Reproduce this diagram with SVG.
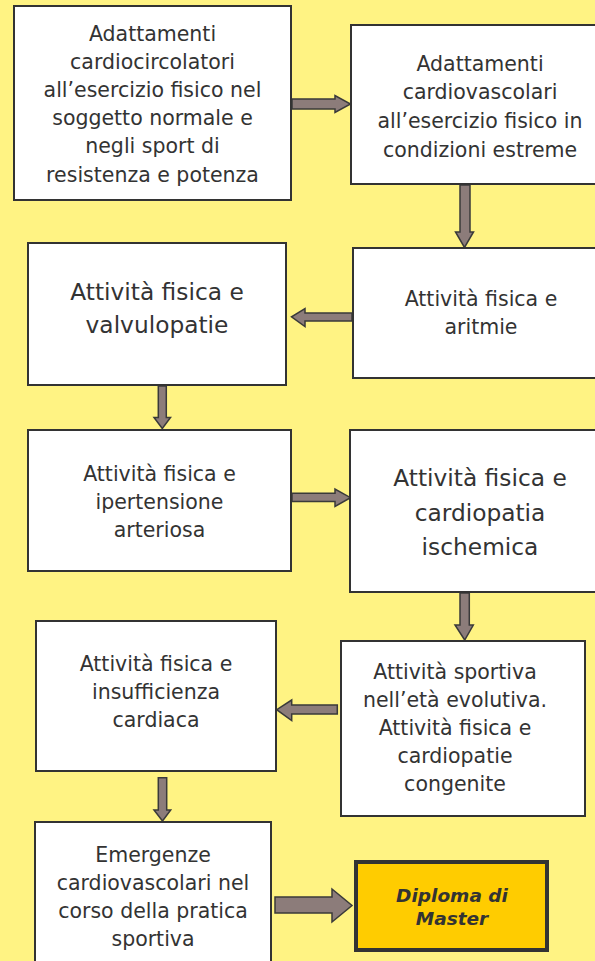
<svg xmlns="http://www.w3.org/2000/svg" width="595" height="961" viewBox="0 0 595 961">
<style>
.bg{fill:#FFF383}
.box{fill:#FFFFFF;stroke:#333333;stroke-width:2}
.final{fill:#FFCC00;stroke:#333333;stroke-width:4}
.t{font-family:"DejaVu Sans",Verdana,sans-serif;fill:#333333;text-anchor:middle;font-size:20.5px}
.tl{font-family:"DejaVu Sans",Verdana,sans-serif;fill:#333333;text-anchor:middle;font-size:23.3px}
.tb{font-family:"DejaVu Sans",Verdana,sans-serif;fill:#333333;text-anchor:middle;font-size:18.5px;font-weight:bold;font-style:italic}
.arr{fill:#8C7C7A;stroke:#3A3A3A;stroke-width:1.5;stroke-linejoin:miter}
</style>
<rect class="bg" x="0" y="0" width="595" height="961"/>
<g id="connectors">
<polygon class="arr" points="292,99 335,99 335,95.5 350.5,104 335,112.5 335,109 292,109"/>
<polygon class="arr" points="460,185 470,185 470,232 473.5,232 464.5,247.5 455.5,232 460,232"/>
<polygon class="arr" points="352,313 305,313 305,308.5 291.5,316.8 305,326.5 305,321 352,321"/>
<polygon class="arr" points="158.3,386 166.3,386 166.3,417.5 170.5,417.5 162.3,428.5 154,417.5 158.3,417.5"/>
<polygon class="arr" points="292,493.3 335,493.3 335,489 350.5,497.7 335,506.5 335,501.5 292,501.5"/>
<polygon class="arr" points="460,593 469.3,593 469.3,625 473.3,625 464.7,640 455,625 460,625"/>
<polygon class="arr" points="337.3,705 291.7,705 291.7,700 276.7,709.7 291.7,720.5 291.7,714 337.3,714"/>
<polygon class="arr" points="158.3,777.7 166.7,777.7 166.7,810 170.7,810 162.5,821 154,810 158.3,810"/>
<polygon class="arr" points="275,897 332,897 332,889 352,905.5 332,922 332,913 275,913"/>
</g>
<g id="n1">
<rect class="box" x="14" y="6" width="277" height="194"/>
<text class="t" x="152.5"><tspan x="152.5" y="41">Adattamenti</tspan><tspan x="152.5" y="69">cardiocircolatori</tspan><tspan x="152.5" y="97">all’esercizio fisico nel</tspan><tspan x="152.5" y="125">soggetto normale e</tspan><tspan x="152.5" y="153">negli sport di</tspan><tspan x="152.5" y="181.5">resistenza e potenza</tspan></text>
</g>
<g id="n2">
<rect class="box" x="351" y="25" width="258" height="159"/>
<text class="t" x="480"><tspan x="480" y="70.5">Adattamenti</tspan><tspan x="480" y="99">cardiovascolari</tspan><tspan x="480" y="128">all’esercizio fisico in</tspan><tspan x="480" y="156.5">condizioni estreme</tspan></text>
</g>
<g id="n3">
<rect class="box" x="28" y="243" width="258" height="142"/>
<text class="tl" x="157"><tspan x="157" y="300">Attività fisica e</tspan><tspan x="157" y="333">valvulopatie</tspan></text>
</g>
<g id="n4">
<rect class="box" x="353" y="248" width="256" height="130"/>
<text class="t" x="481"><tspan x="481" y="306">Attività fisica e</tspan><tspan x="481" y="334">aritmie</tspan></text>
</g>
<g id="n5">
<rect class="box" x="28" y="430" width="263" height="141"/>
<text class="t" x="159.5"><tspan x="159.5" y="481">Attività fisica e</tspan><tspan x="159.5" y="509">ipertensione</tspan><tspan x="159.5" y="537">arteriosa</tspan></text>
</g>
<g id="n6">
<rect class="box" x="350" y="430" width="260" height="162"/>
<text class="tl" x="480"><tspan x="480" y="486">Attività fisica e</tspan><tspan x="480" y="521">cardiopatia</tspan><tspan x="480" y="555">ischemica</tspan></text>
</g>
<g id="n7">
<rect class="box" x="36" y="621" width="240" height="150"/>
<text class="t" x="156"><tspan x="156" y="671">Attività fisica e</tspan><tspan x="156" y="699">insufficienza</tspan><tspan x="156" y="727">cardiaca</tspan></text>
</g>
<g id="n8">
<rect class="box" x="341" y="641" width="244" height="175"/>
<text class="t" x="455"><tspan x="455" y="679">Attività sportiva</tspan><tspan x="455" y="707">nell’età evolutiva.</tspan><tspan x="455" y="735">Attività fisica e</tspan><tspan x="455" y="763">cardiopatie</tspan><tspan x="455" y="791">congenite</tspan></text>
</g>
<g id="n9">
<rect class="box" x="35" y="822" width="236" height="145"/>
<text class="t" x="153"><tspan x="153" y="862">Emergenze</tspan><tspan x="153" y="890">cardiovascolari nel</tspan><tspan x="153" y="918">corso della pratica</tspan><tspan x="153" y="946">sportiva</tspan></text>
</g>
<g id="n10">
<rect class="final" x="356" y="862" width="191" height="88"/>
<text class="tb" x="452"><tspan x="452" y="901.5">Diploma di</tspan><tspan x="452" y="925">Master</tspan></text>
</g>
</svg>
